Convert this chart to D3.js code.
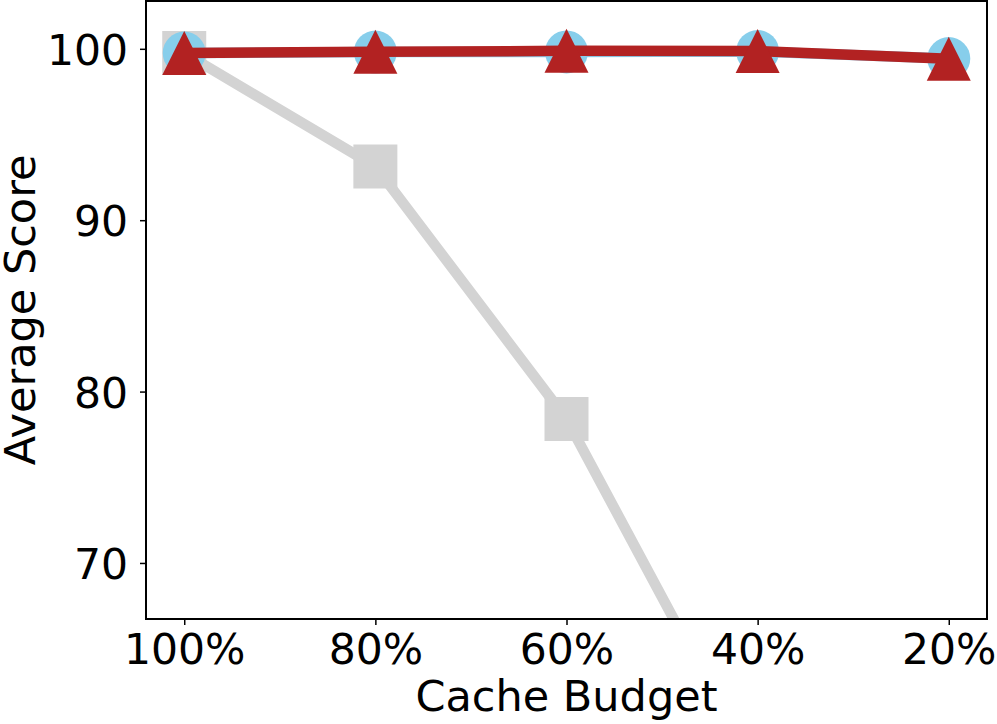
<!DOCTYPE html>
<html>
<head>
<meta charset="utf-8">
<script src="https://cdn.jsdelivr.net/npm/d3@7"></script>
<style>
    body { margin: 0; background: #fff; }
    text { font-family: 'DejaVu Sans', sans-serif; fill: #000; }
</style>
</head>
<body>
<svg id="chart" width="997" height="724"></svg>
<script>
// data
var budgets = ['100%', '80%', '60%', '40%', '20%'];
var yTicks = [70, 80, 90, 100];
var grayScores = [99.75, 93.14, 78.4, 57.6, 40.0];
var blueScores = [99.75, 99.81, 99.82, 99.84, 99.43];
var redScores  = [99.75, 99.83, 99.88, 99.87, 99.42];

var box = { left: 146, right: 987, top: 1, bottom: 619 };

var svg = d3.select('#chart');

var x = d3.scaleLinear().domain([-0.2, budgets.length - 1 + 0.2]).range([box.left, box.right]);
var y = d3.scaleLinear().domain([66.73, 102.79]).range([box.bottom, box.top]);

svg.append('defs').append('clipPath')
    .attr('id', 'plotclip')
    .append('rect')
    .attr('x', box.left)
    .attr('y', box.top)
    .attr('width', box.right - box.left)
    .attr('height', box.bottom - box.top);

var plot = svg.append('g').attr('clip-path', 'url(#plotclip)');

var line = d3.line()
    .x(function(d, i) { return x(i); })
    .y(function(d) { return y(d); });

function drawSeries(values, color, shape, size) {
    plot.append('path')
        .datum(values)
        .attr('d', line)
        .attr('fill', 'none')
        .attr('stroke', color)
        .attr('stroke-width', 10.5)
        .attr('stroke-linejoin', 'round');

    if (shape == 'triangle') {
        // matplotlib '^' is as tall as it is wide
        plot.selectAll(null)
            .data(values)
            .enter().append('path')
            .attr('d', function(d, i) {
                var cx = x(i), cy = y(d), h = size / 2;
                return 'M' + cx + ',' + (cy - h) + 'L' + (cx + h) + ',' + (cy + h) + 'L' + (cx - h) + ',' + (cy + h) + 'Z';
            })
            .attr('fill', color);
        return;
    }
    var sym = d3.symbol().type(shape).size(shape == d3.symbolCircle ? Math.PI * size * size / 4 : size * size);
    plot.selectAll(null)
        .data(values)
        .enter().append('path')
        .attr('d', sym)
        .attr('transform', function(d, i) { return 'translate(' + x(i) + ',' + y(d) + ')'; })
        .attr('fill', color);
}

drawSeries(grayScores, '#d3d3d3', d3.symbolSquare, 44);
drawSeries(blueScores, '#87ceeb', d3.symbolCircle, 43);
drawSeries(redScores, '#b22222', 'triangle', 44);

// axes
var xAxis = d3.axisBottom(x)
    .tickValues(d3.range(budgets.length))
    .tickFormat(function(d) { return budgets[d]; })
    .tickSizeInner(6).tickSizeOuter(0).tickPadding(10);
var yAxis = d3.axisLeft(y)
    .tickValues(yTicks)
    .tickSizeInner(6).tickSizeOuter(0).tickPadding(10);

var gx = svg.append('g').attr('transform', 'translate(0,' + box.bottom + ')').call(xAxis);
var gy = svg.append('g').attr('transform', 'translate(' + box.left + ',0)').call(yAxis);

[gx, gy].forEach(function(g) {
    g.select('.domain').remove();
    g.selectAll('.tick line').attr('stroke', '#000').attr('stroke-width', 1.5);
    g.selectAll('.tick text')
        .style('font-family', "'DejaVu Sans', sans-serif")
        .style('font-size', '42.5px')
        .attr('fill', '#000');
});
gx.selectAll('.tick text').attr('dy', null).attr('y', 45);
gy.selectAll('.tick text').attr('dy', null).attr('x', -18).attr('y', 15.5);

svg.append('rect')
    .attr('x', box.left)
    .attr('y', box.top)
    .attr('width', box.right - box.left)
    .attr('height', box.bottom - box.top)
    .attr('fill', 'none')
    .attr('stroke', '#000')
    .attr('stroke-width', 2);

svg.append('text')
    .attr('x', (box.left + box.right) / 2)
    .attr('y', 711)
    .attr('text-anchor', 'middle')
    .style('font-size', '43px')
    .text('Cache Budget');

svg.append('text')
    .attr('transform', 'translate(35,' + (box.top + box.bottom) / 2 + ') rotate(-90)')
    .attr('text-anchor', 'middle')
    .style('font-size', '43px')
    .text('Average Score');
</script>
</body>
</html>
